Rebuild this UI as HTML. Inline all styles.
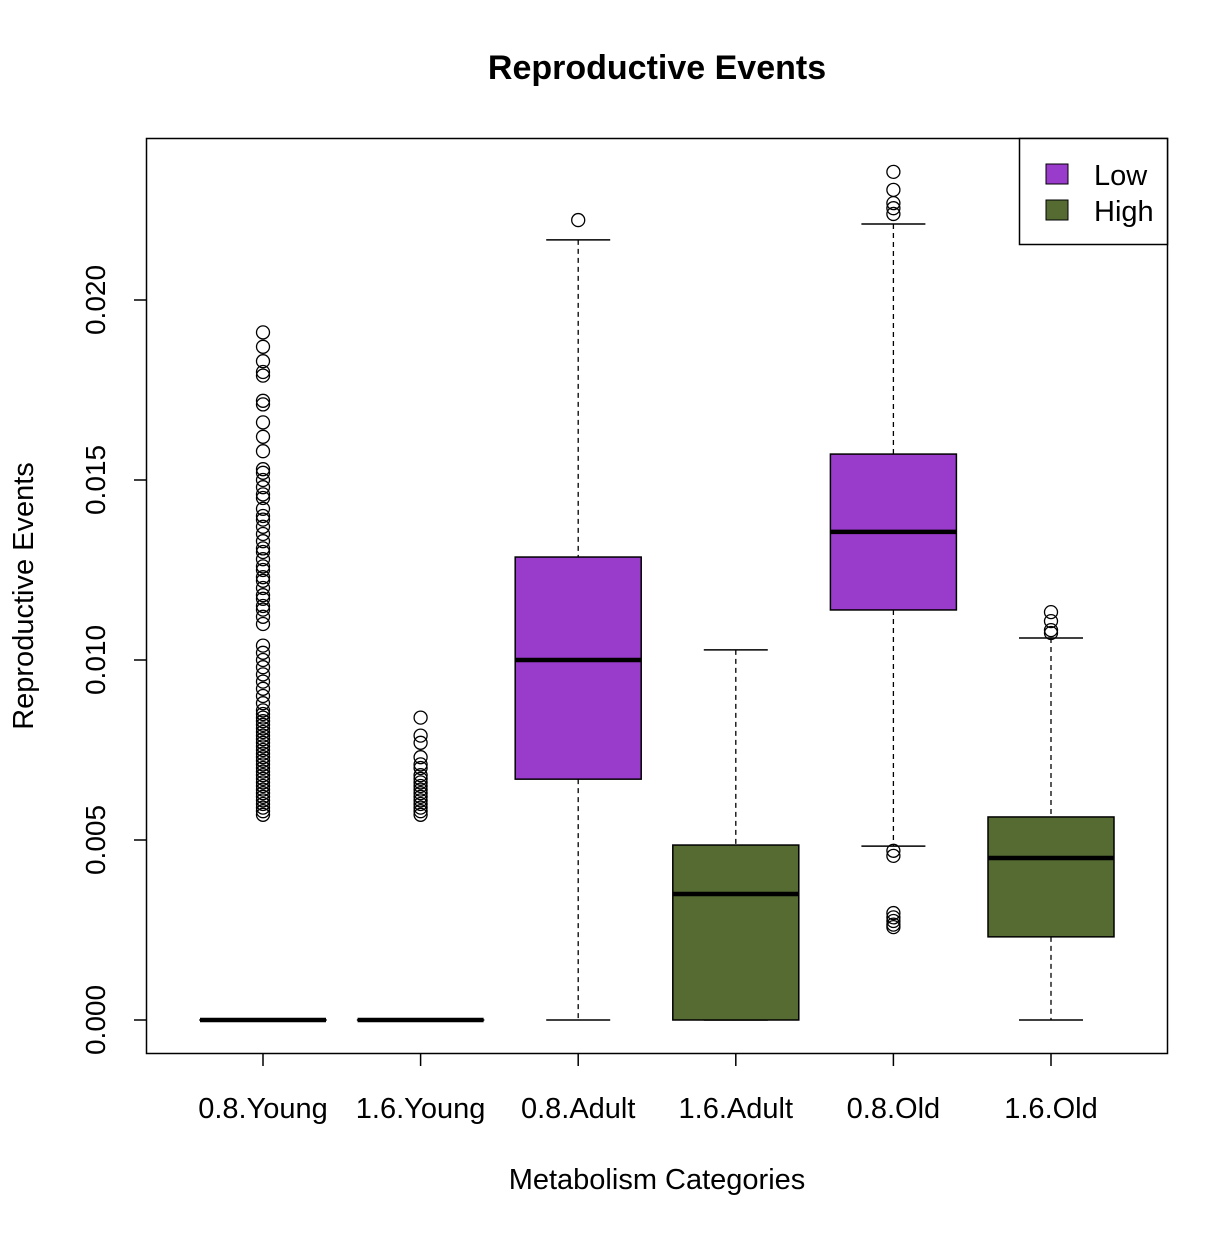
<!DOCTYPE html>
<html><head><meta charset="utf-8"><style>
body{margin:0;background:#fff}
svg text{font-family:"Liberation Sans",Arial,sans-serif;fill:#000}
</style></head><body>
<svg id="chart" width="1232" height="1231" viewBox="0 0 1232 1231" xmlns="http://www.w3.org/2000/svg">
<text x="657" y="79" font-size="34" font-weight="bold" text-anchor="middle">Reproductive Events</text>
<text x="657" y="1189" font-size="29" text-anchor="middle">Metabolism Categories</text>
<text transform="translate(33,596) rotate(-90)" font-size="29" text-anchor="middle">Reproductive Events</text>
<g id="marks"></g>
<rect x="146.5" y="138.5" width="1021" height="915" fill="none" stroke="#000" stroke-width="1.5"/>
<g>
<rect x="1019.5" y="138.5" width="148" height="106" fill="#fff" stroke="#000" stroke-width="1.5"/>
<rect x="1046" y="164" width="22" height="20" fill="#9A3CCB" stroke="#000"/>
<text x="1094" y="185" font-size="29">Low</text>
<rect x="1046" y="200" width="22" height="20" fill="#556B32" stroke="#000"/>
<text x="1094" y="221" font-size="29">High</text>
</g>
</svg>
<script>
const categories=["0.8.Young","1.6.Young","0.8.Adult","1.6.Adult","0.8.Old","1.6.Old"];
const groupColor=["low","high","low","high","low","high"];
const whiskerLow=[0,0,0,0,0.00483,0];
const q1=[0,0,0.00669,0,0.01139,0.00231];
const median=[0,0,0.0100,0.0035,0.01356,0.0045];
const q3=[0,0,0.01286,0.00486,0.01572,0.00564];
const whiskerHigh=[0,0,0.02167,0.01028,0.02211,0.01061];
const outliers=[
[0.0191,0.0187,0.0183,0.0180,0.0179,0.0172,0.0171,0.0166,0.0162,0.0158,0.0153,0.0152,0.0150,0.0148,0.0146,0.0145,0.0142,0.0140,0.0139,0.0137,0.0135,0.0133,0.0131,0.0130,0.0128,0.0126,0.0125,0.0123,0.0122,0.0120,0.0118,0.0117,0.0115,0.0114,0.0112,0.0110,0.0104,0.0102,0.0100,0.0098,0.0096,0.0094,0.0092,0.0090,0.0088,0.0086,0.0085,0.0084,0.0083,0.0082,0.0081,0.0080,0.0079,0.0078,0.0077,0.0076,0.0075,0.0074,0.0073,0.0072,0.0071,0.0070,0.0069,0.0068,0.0067,0.0066,0.0065,0.0064,0.0063,0.0062,0.0061,0.0060,0.0059,0.0058,0.0057],
[0.0084,0.0079,0.0077,0.0073,0.0071,0.0070,0.0068,0.0067,0.0066,0.0065,0.0064,0.0063,0.0062,0.0061,0.0060,0.0059,0.0058,0.0057],
[0.02222],
[],
[0.02356,0.02306,0.02269,0.02255,0.02239,0.0047,0.00456,0.00297,0.00285,0.00275,0.00265,0.00258],
[0.01133,0.01108,0.01083,0.01075]
];
const yTicks=[0,0.005,0.010,0.015,0.020];
const yTickLabels=["0.000","0.005","0.010","0.015","0.020"];

const NS="http://www.w3.org/2000/svg";
const fills={low:"#9A3CCB",high:"#556B32"};
const Y=v=>1020-v*36000;
const X=i=>263+i*157.6;
const BW=126;
const g=document.getElementById("marks");
function mk(tag,attrs,parent){const e=document.createElementNS(NS,tag);for(const k in attrs)e.setAttribute(k,attrs[k]);(parent||g).appendChild(e);return e;}

yTicks.forEach((v,i)=>{
  const t=mk("line",{x1:134,x2:146,y1:Y(v),y2:Y(v),stroke:"#000","stroke-width":1.5});
  
  
  const l=mk("text",{transform:`translate(105,${Y(v)}) rotate(-90)`,"font-size":28,"text-anchor":"middle"});
  l.textContent=yTickLabels[i];
  
  
});
categories.forEach((c,i)=>{
  const x=X(i);
  const t=mk("line",{x1:x,x2:x,y1:1053,y2:1066,stroke:"#000","stroke-width":1.5});
  
  
  const l=mk("text",{x:x,y:1118,"font-size":29,"text-anchor":"middle"});
  l.textContent=c;
  
  

  const wl=mk("line",{x1:x,x2:x,y1:Y(whiskerHigh[i]),y2:Y(q3[i]),stroke:"#000","stroke-width":1.3,"stroke-dasharray":"5,4"});
  
  
  const wl2=mk("line",{x1:x,x2:x,y1:Y(q1[i]),y2:Y(whiskerLow[i]),stroke:"#000","stroke-width":1.3,"stroke-dasharray":"5,4"});
  
  
  const cap1=mk("line",{x1:x-32,x2:x+32,y1:Y(whiskerHigh[i]),y2:Y(whiskerHigh[i]),stroke:"#000","stroke-width":1.5});
  
  
  const cap2=mk("line",{x1:x-32,x2:x+32,y1:Y(whiskerLow[i]),y2:Y(whiskerLow[i]),stroke:"#000","stroke-width":1.5});
  
  
  const b=mk("rect",{x:x-BW/2,y:Y(q3[i]),width:BW,height:Math.max(Y(q1[i])-Y(q3[i]),0.01),fill:fills[groupColor[i]],stroke:"#000","stroke-width":1.5});
  
  
  const m=mk("line",{x1:x-BW/2,x2:x+BW/2,y1:Y(median[i]),y2:Y(median[i]),stroke:"#000","stroke-width":4.5});
  
  
  outliers[i].forEach(v=>{
    const o=mk("circle",{cx:x,cy:Y(v),r:6.5,fill:"none",stroke:"#000","stroke-width":1.3});
    
    
  });
});
</script>
</body></html>
